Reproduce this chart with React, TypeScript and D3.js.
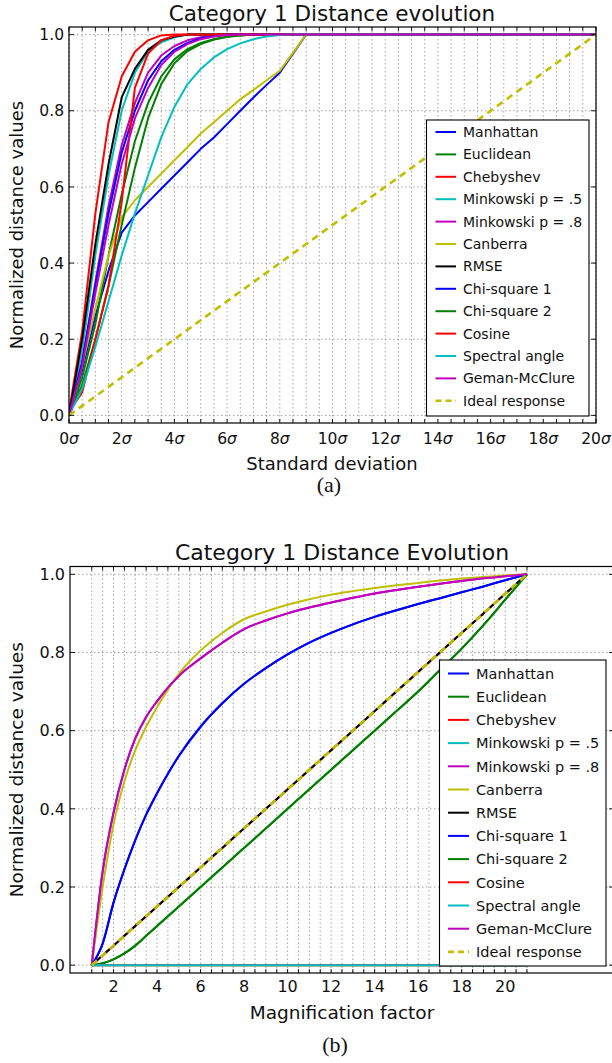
import React from "react";
import * as d3 from "d3";

// ---- shared legend entries ----
const LEGEND_LABELS = [
  "Manhattan",
  "Euclidean",
  "Chebyshev",
  "Minkowski p = .5",
  "Minkowski p = .8",
  "Canberra",
  "RMSE",
  "Chi-square 1",
  "Chi-square 2",
  "Cosine",
  "Spectral angle",
  "Geman-McClure",
  "Ideal response",
];

const LINE_COLORS = [
  "#0000ff", "#008000", "#ff0000", "#00bfbf", "#bf00bf", "#bfbf00", "#000000",
  "#0000ff", "#008000", "#ff0000", "#00bfbf", "#bf00bf", "#bfbf00",
];

// ---- (a) distance vs. added noise, in standard deviations ----
const SIGMA_STEPS = [0, 0.5, 1, 1.5, 2, 2.5, 3, 3.5, 4, 4.5, 5, 5.5, 6, 6.5, 7, 7.5, 8, 8.5, 9, 9.5, 10, 20];

const SIGMA_MANHATTAN = [0, 0.12, 0.26, 0.38, 0.48, 0.525, 0.56, 0.595, 0.63, 0.665, 0.7, 0.73, 0.765, 0.8, 0.835, 0.868, 0.9, 0.95, 1, 1, 1, 1];
const SIGMA_EUCLIDEAN = [0, 0.1, 0.24, 0.42, 0.58, 0.72, 0.82, 0.89, 0.935, 0.962, 0.978, 0.988, 0.995, 0.998, 1, 1, 1, 1, 1, 1, 1, 1];
const SIGMA_CHEBYSHEV = [0.01, 0.22, 0.53, 0.77, 0.89, 0.955, 0.985, 0.998, 1, 1, 1, 1, 1, 1, 1, 1, 1, 1, 1, 1, 1, 1];
const SIGMA_MINK_05 = [0, 0.17, 0.42, 0.63, 0.8, 0.9, 0.955, 0.98, 0.993, 1, 1, 1, 1, 1, 1, 1, 1, 1, 1, 1, 1, 1];
const SIGMA_MINK_08 = [0, 0.14, 0.35, 0.55, 0.71, 0.82, 0.9, 0.945, 0.97, 0.985, 0.993, 0.998, 1, 1, 1, 1, 1, 1, 1, 1, 1, 1];
const SIGMA_CANBERRA = [0, 0.13, 0.28, 0.42, 0.52, 0.565, 0.6, 0.635, 0.67, 0.705, 0.74, 0.77, 0.8, 0.83, 0.855, 0.88, 0.905, 0.952, 1, 1, 1, 1];
const SIGMA_RMSE = [0, 0.2, 0.45, 0.66, 0.835, 0.91, 0.96, 0.985, 0.995, 1, 1, 1, 1, 1, 1, 1, 1, 1, 1, 1, 1, 1];
const SIGMA_CHI1 = [0, 0.14, 0.34, 0.53, 0.69, 0.8, 0.88, 0.93, 0.96, 0.978, 0.99, 0.996, 1, 1, 1, 1, 1, 1, 1, 1, 1, 1];
const SIGMA_CHI2 = [0, 0.08, 0.2, 0.34, 0.5, 0.65, 0.78, 0.87, 0.925, 0.957, 0.975, 0.987, 0.994, 0.998, 1, 1, 1, 1, 1, 1, 1, 1];
const SIGMA_COSINE = [0.01, 0.06, 0.2, 0.34, 0.56, 0.86, 0.95, 0.985, 0.997, 1, 1, 1, 1, 1, 1, 1, 1, 1, 1, 1, 1, 1];
const SIGMA_SPECTRAL = [0, 0.07, 0.18, 0.3, 0.42, 0.53, 0.63, 0.73, 0.81, 0.87, 0.91, 0.94, 0.962, 0.977, 0.988, 0.995, 0.999, 1, 1, 1, 1, 1];
const SIGMA_GEMAN = [0, 0.13, 0.32, 0.5, 0.66, 0.78, 0.86, 0.92, 0.955, 0.975, 0.988, 0.995, 0.999, 1, 1, 1, 1, 1, 1, 1, 1, 1];
const SIGMA_IDEAL = [0, 0.025, 0.05, 0.075, 0.1, 0.125, 0.15, 0.175, 0.2, 0.225, 0.25, 0.275, 0.3, 0.325, 0.35, 0.375, 0.4, 0.425, 0.45, 0.475, 0.5, 1];

const SIGMA_SERIES = [
  SIGMA_MANHATTAN, SIGMA_EUCLIDEAN, SIGMA_CHEBYSHEV, SIGMA_MINK_05, SIGMA_MINK_08,
  SIGMA_CANBERRA, SIGMA_RMSE, SIGMA_CHI1, SIGMA_CHI2, SIGMA_COSINE, SIGMA_SPECTRAL,
  SIGMA_GEMAN, SIGMA_IDEAL,
];
const SIGMA_TICK_LABELS = [0, 2, 4, 6, 8, 10, 12, 14, 16, 18, 20];

// ---- (b) distance vs. magnification factor ----
const MAG_STEPS = [1, 1.5, 2, 2.5, 3, 3.5, 4, 4.5, 5, 6, 7, 8, 9, 10, 11, 12, 13, 14, 15, 16, 17, 18, 19, 20, 21];

const MAG_MANHATTAN = [0, 0.055, 0.16, 0.245, 0.32, 0.385, 0.44, 0.49, 0.535, 0.61, 0.67, 0.72, 0.76, 0.795, 0.825, 0.85, 0.872, 0.891, 0.908, 0.924, 0.939, 0.954, 0.969, 0.985, 1];
const MAG_EUCLIDEAN = [0, 0.005, 0.015, 0.03, 0.05, 0.075, 0.1, 0.125, 0.15, 0.2, 0.25, 0.3, 0.35, 0.4, 0.45, 0.5, 0.55, 0.6, 0.65, 0.7, 0.755, 0.81, 0.87, 0.935, 1];
const MAG_LINEAR = [0, 0.025, 0.05, 0.075, 0.1, 0.125, 0.15, 0.175, 0.2, 0.25, 0.3, 0.35, 0.4, 0.45, 0.5, 0.55, 0.6, 0.65, 0.7, 0.75, 0.8, 0.85, 0.9, 0.95, 1];
const MAG_ZERO = [0, 0, 0, 0, 0, 0, 0, 0, 0, 0, 0, 0, 0, 0, 0, 0, 0, 0, 0, 0, 0, 0, 0, 0, 0];
const MAG_MINK_08 = [0, 0.24, 0.39, 0.5, 0.58, 0.635, 0.675, 0.71, 0.74, 0.785, 0.825, 0.86, 0.882, 0.9, 0.915, 0.928, 0.94, 0.951, 0.96, 0.968, 0.976, 0.983, 0.99, 0.995, 1];
const MAG_CANBERRA = [0, 0.2, 0.36, 0.47, 0.55, 0.61, 0.66, 0.705, 0.745, 0.805, 0.85, 0.885, 0.905, 0.922, 0.936, 0.948, 0.957, 0.965, 0.972, 0.978, 0.984, 0.989, 0.993, 0.997, 1];

const MAG_SERIES = [
  MAG_MANHATTAN, MAG_EUCLIDEAN, MAG_LINEAR, MAG_ZERO, MAG_MINK_08,
  MAG_CANBERRA, MAG_LINEAR, MAG_MANHATTAN, MAG_EUCLIDEAN, MAG_ZERO, MAG_ZERO,
  MAG_MINK_08, MAG_LINEAR,
];
const MAG_TICK_LABELS = [2, 4, 6, 8, 10, 12, 14, 16, 18, 20];

const Y_TICKS = [0, 0.2, 0.4, 0.6, 0.8, 1.0];

const FONT = "DejaVu Sans, Liberation Sans, sans-serif";
const IDEAL_DASH = "7,5";

type LegendBox = {
  x0: number; x1: number; y0: number; y1: number;
  row0: number; step: number; sx0: number; sx1: number; tx: number; size: number;
};

type PanelProps = {
  id: string;
  left: number; right: number; top: number; bottom: number;
  xDomain: [number, number];
  xTicks: number[];
  xLabels: number[];
  sigma: boolean;
  xs: number[];
  series: number[][];
  curve: d3.CurveFactory;
  title: string; titleX: number; titleY: number; titleSize: number;
  xlabel: string; xlabelY: number; labelSize: number; ylabelX: number;
  tickSize: number; xTickY: number;
  caption: string; captionX: number; captionY: number;
  legend: LegendBox;
};

function Panel(p: PanelProps) {
  const x = d3.scaleLinear().domain(p.xDomain).range([p.left, p.right]);
  const y = d3.scaleLinear().domain([-0.02, 1.02]).range([p.bottom, p.top]);
  const line = d3
    .line<[number, number]>()
    .x((d) => x(d[0]))
    .y((d) => y(d[1]))
    .curve(p.curve);
  const clipId = `clip-${p.id}`;
  const n = p.series.length;
  const lg = p.legend;

  return (
    <g>
      <defs>
        <clipPath id={clipId}>
          <rect x={p.left} y={p.top} width={p.right - p.left} height={p.bottom - p.top} />
        </clipPath>
      </defs>

      {/* dotted grid */}
      <g stroke="#8c8c8c" strokeWidth={0.8} strokeDasharray="1.5,2.5" fill="none">
        {p.xTicks.map((t) => (
          <line key={`gx${t}`} x1={x(t)} x2={x(t)} y1={p.top} y2={p.bottom} />
        ))}
        {Y_TICKS.map((t) => (
          <line key={`gy${t}`} x1={p.left} x2={p.right} y1={y(t)} y2={y(t)} />
        ))}
      </g>

      {/* distance curves */}
      <g clipPath={`url(#${clipId})`} fill="none" strokeLinejoin="round">
        {p.series.map((vals, i) => {
          const pts = p.xs.map((xv, j) => [xv, vals[j]] as [number, number]);
          const isIdeal = i === n - 1;
          return (
            <path
              key={`s${i}`}
              d={line(pts) || ""}
              stroke={LINE_COLORS[i]}
              strokeWidth={isIdeal ? 2.6 : 2}
              strokeDasharray={isIdeal ? IDEAL_DASH : undefined}
            />
          );
        })}
      </g>

      {/* frame and inward ticks */}
      <rect x={p.left} y={p.top} width={p.right - p.left} height={p.bottom - p.top}
        fill="none" stroke="#000" strokeWidth={1.2} />
      <g stroke="#000" strokeWidth={0.9}>
        {p.xTicks.map((t) => (
          <g key={`tx${t}`}>
            <line x1={x(t)} x2={x(t)} y1={p.bottom} y2={p.bottom - 4} />
            <line x1={x(t)} x2={x(t)} y1={p.top} y2={p.top + 4} />
          </g>
        ))}
        {Y_TICKS.map((t) => (
          <g key={`ty${t}`}>
            <line x1={p.left} x2={p.left + 5} y1={y(t)} y2={y(t)} />
            <line x1={p.right} x2={p.right - 5} y1={y(t)} y2={y(t)} />
          </g>
        ))}
      </g>

      {/* tick labels */}
      <g fontFamily={FONT} fontSize={p.tickSize} fill="#111">
        {Y_TICKS.map((t) => (
          <text key={`ly${t}`} x={p.left - 5} y={y(t) + 0.36 * p.tickSize} textAnchor="end">
            {t.toFixed(1)}
          </text>
        ))}
        {p.xLabels.map((t) => (
          <text key={`lx${t}`} x={x(t)} y={p.xTickY} textAnchor="middle">
            {p.sigma ? (
              <>
                <tspan>{t}</tspan>
                <tspan fontStyle="italic">σ</tspan>
              </>
            ) : (
              t
            )}
          </text>
        ))}
      </g>

      {/* titles */}
      <text x={p.titleX} y={p.titleY} textAnchor="middle" fontFamily={FONT} fontSize={p.titleSize} fill="#111">
        {p.title}
      </text>
      <text x={p.titleX} y={p.xlabelY} textAnchor="middle" fontFamily={FONT} fontSize={p.labelSize} fill="#111">
        {p.xlabel}
      </text>
      <text
        transform={`translate(${p.ylabelX},${(p.top + p.bottom) / 2}) rotate(-90)`}
        textAnchor="middle"
        fontFamily={FONT}
        fontSize={p.labelSize}
        fill="#111"
      >
        Normalized distance values
      </text>

      {/* legend */}
      <rect x={lg.x0} y={lg.y0} width={lg.x1 - lg.x0} height={lg.y1 - lg.y0}
        fill="#fff" stroke="#000" strokeWidth={1.1} />
      {LEGEND_LABELS.map((name, i) => {
        const ry = lg.row0 + i * lg.step;
        const isIdeal = i === n - 1;
        return (
          <g key={`lg${i}`}>
            <line x1={lg.sx0} x2={lg.sx1} y1={ry} y2={ry} stroke={LINE_COLORS[i]}
              strokeWidth={isIdeal ? 2.6 : 2} strokeDasharray={isIdeal ? "6,4" : undefined} />
            <text x={lg.tx} y={ry + 0.36 * lg.size} fontFamily={FONT} fontSize={lg.size} fill="#111">
              {name}
            </text>
          </g>
        );
      })}

      {/* panel caption */}
      <text x={p.captionX} y={p.captionY} textAnchor="middle" fontFamily="Liberation Serif, serif" fontSize={22} fill="#111">
        {p.caption}
      </text>
    </g>
  );
}

export default function App() {
  const sigmaTicks = d3.range(0, 20.001, 0.5);
  const magTicks = d3.range(1, 21.001, 0.5);

  return (
    <svg
      width={612}
      height={1063}
      viewBox="0 0 612 1063"
      style={{ position: "absolute", left: 0, top: 0, background: "#fff", display: "block" }}
    >
      <rect x={0} y={0} width={612} height={1063} fill="#fff" />
      <Panel
        id="a"
        left={69} right={596} top={27} bottom={423}
        xDomain={[0, 20]}
        xTicks={sigmaTicks}
        xLabels={SIGMA_TICK_LABELS}
        sigma={true}
        xs={SIGMA_STEPS}
        series={SIGMA_SERIES}
        curve={d3.curveLinear}
        title="Category 1 Distance evolution" titleX={332} titleY={21} titleSize={21.5}
        xlabel="Standard deviation" xlabelY={470} labelSize={18} ylabelX={22.5}
        tickSize={15.5} xTickY={444}
        caption="(a)" captionX={329} captionY={492}
        legend={{ x0: 426.5, x1: 589, y0: 120, y1: 416, row0: 132, step: 22.4, sx0: 435.5, sx1: 456, tx: 463, size: 14 }}
      />
      <Panel
        id="b"
        left={70} right={614} top={566.5} bottom={973}
        xDomain={[0, 25]}
        xTicks={magTicks}
        xLabels={MAG_TICK_LABELS}
        sigma={false}
        xs={MAG_STEPS}
        series={MAG_SERIES}
        curve={d3.curveMonotoneX}
        title="Category 1 Distance Evolution" titleX={342} titleY={560} titleSize={22}
        xlabel="Magnification factor" xlabelY={1019} labelSize={18.5} ylabelX={23}
        tickSize={16} xTickY={992}
        caption="(b)" captionX={335} captionY={1052}
        legend={{ x0: 439.5, x1: 606, y0: 660, y1: 966, row0: 673.5, step: 23.2, sx0: 448, sx1: 469, tx: 476, size: 14.5 }}
      />
    </svg>
  );
}
